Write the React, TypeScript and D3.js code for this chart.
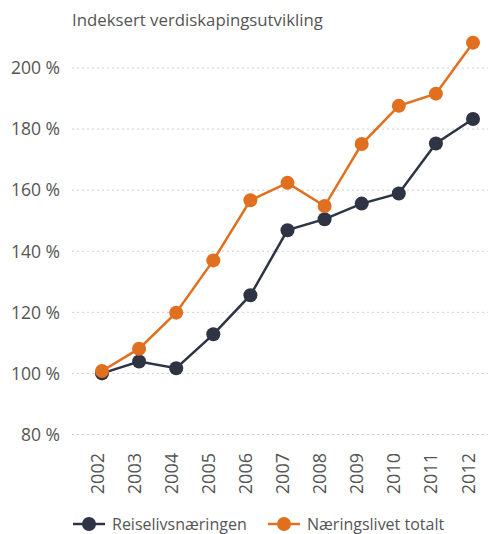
import React from "react";
import * as d3 from "d3";

const years = ["2002","2003","2004","2005","2006","2007","2008","2009","2010","2011","2012"];
const reiseliv = [100, 103.9, 101.7, 112.8, 125.6, 146.9, 150.5, 155.6, 158.9, 175.3, 183.3];
const totalt = [100.8, 108.1, 119.9, 137, 156.7, 162.4, 154.8, 175.1, 187.6, 191.6, 208.3];
const yTicks = [80, 100, 120, 140, 160, 180, 200];
const seriesNames = ["Reiselivsnæringen", "Næringslivet totalt"];
const colors = ["#2e3444", "#e07020"];
const title = "Indeksert verdiskapingsutvikling";

export default function App() {
  const W = 488, H = 534;
  const x = d3.scalePoint<string>().domain(years).range([102, 473]);
  const y = d3.scaleLinear().domain([80, 200]).range([434.5, 68]);
  const line = d3.line<number>().x((_, i) => x(years[i])!).y(d => y(d));
  const font = "'Open Sans', sans-serif";
  const series = [reiseliv, totalt];
  const legendX = [73, 268];
  return (
    <svg width={W} height={H} style={{ position: "absolute", left: 0, top: 0 }} fontFamily={font}>
      <rect width={W} height={H} fill="#fff" />
      <text x={72} y={26} fontSize={16.8} fill="#555">{title}</text>
      {yTicks.map(t => (
        <g key={t}>
          <line x1={72} x2={488} y1={y(t)} y2={y(t)} stroke="#d0d0d0" strokeDasharray="2,3" />
          <text x={60} y={y(t)} dy="0.36em" textAnchor="end" fontSize={17.5} fill="#555">{t} %</text>
        </g>
      ))}
      {years.map(yr => (
        <text key={yr} transform={`translate(${x(yr)! + 1.5},453) rotate(-90)`} textAnchor="end" fontSize={18} fill="#555">{yr}</text>
      ))}
      {series.map((s, si) => (
        <g key={si}>
          <path d={line(s)!} fill="none" stroke={colors[si]} strokeWidth={2.5} />
          {s.map((v, i) => (
            <circle key={i} cx={x(years[i])} cy={y(v)} r={7} fill={colors[si]} />
          ))}
        </g>
      ))}
      {seriesNames.map((n, i) => (
        <g key={n}>
          <line x1={legendX[i]} x2={legendX[i] + 32} y1={524} y2={524} stroke={colors[i]} strokeWidth={2.5} />
          <circle cx={legendX[i] + 16} cy={524} r={7} fill={colors[i]} />
          <text x={legendX[i] + 39} y={530} fontSize={16} fill="#555">{n}</text>
        </g>
      ))}
    </svg>
  );
}
